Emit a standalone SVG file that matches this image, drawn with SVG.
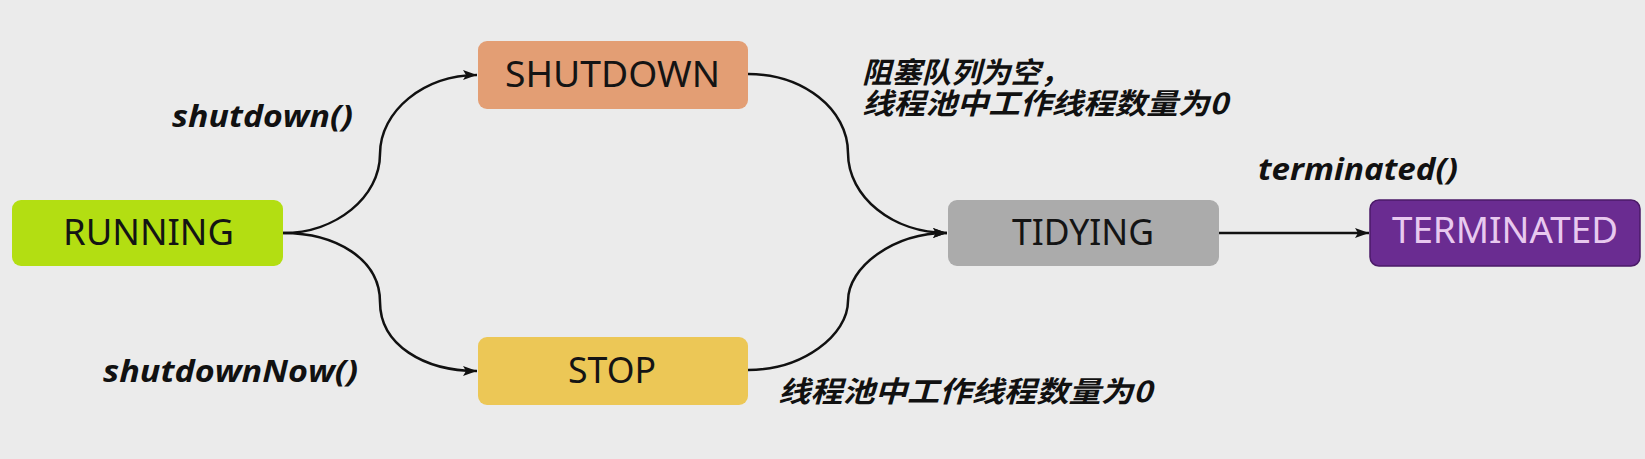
<svg xmlns="http://www.w3.org/2000/svg" width="1645" height="459" viewBox="0 0 1645 459">
<defs>
<style>
.bg{fill:#ebebeb}
.node{stroke:none}
.ntext{font-family:"Noto Sans","Open Sans","Liberation Sans",sans-serif;font-size:36px;fill:#141414;text-anchor:start}
.lbl{font-family:"Open Sans","Noto Sans","Liberation Sans",sans-serif;font-size:31px;font-weight:700;font-style:italic;fill:#111}
.cjk{font-family:"Noto Sans CJK SC","Noto Sans",sans-serif;font-size:29px;font-weight:700;font-style:italic;fill:#111}
.conn{fill:none;stroke:#111;stroke-width:2.5}
</style>
<marker id="arr" viewBox="0 0 14 10" refX="14" refY="5" markerWidth="14" markerHeight="10" markerUnits="userSpaceOnUse" orient="auto">
<path d="M0,0 L14,5 L0,10 L3,5 Z" fill="#111"/>
</marker>
</defs>
<rect class="bg" x="0" y="0" width="1645" height="459"/>
<g id="connectors">
<path class="conn" d="M283,233 C336,233 380,197 380,154 C380,111 424,75 477,75" marker-end="url(#arr)"/>
<path class="conn" d="M283,233 C336,233 380,259 380,302 C380,345 424,371 477,371" marker-end="url(#arr)"/>
<path class="conn" d="M748,74 C803,74 848,109 848,153 C848,197 893,233 947,233" marker-end="url(#arr)"/>
<path class="conn" d="M748,370 C803,370 848,335 848,301 C848,267 893,233 947,233" marker-end="url(#arr)"/>
<path class="conn" d="M1219,233 L1369,233" marker-end="url(#arr)"/>
</g>
<g id="running">
<rect class="node" x="12" y="200" width="271" height="66" rx="9" fill="#b3de12"/>
<text class="ntext" x="63" y="245" textLength="171" lengthAdjust="spacingAndGlyphs">RUNNING</text>
</g>
<g id="shutdown">
<rect class="node" x="478" y="41" width="270" height="68" rx="9" fill="#e39e74"/>
<text class="ntext" x="505" y="87" textLength="215" lengthAdjust="spacingAndGlyphs">SHUTDOWN</text>
</g>
<g id="stop">
<rect class="node" x="478" y="337" width="270" height="68" rx="9" fill="#ecc756"/>
<text class="ntext" x="568" y="383" textLength="88" lengthAdjust="spacingAndGlyphs">STOP</text>
</g>
<g id="tidying">
<rect class="node" x="948" y="200" width="271" height="66" rx="9" fill="#ababab"/>
<text class="ntext" x="1012" y="245" textLength="142" lengthAdjust="spacingAndGlyphs">TIDYING</text>
</g>
<g id="terminated">
<rect x="1370" y="200" width="270" height="66" rx="9" fill="#6a2c91" stroke="#4b1a68" stroke-width="1.5"/>
<text class="ntext" x="1392" y="243" textLength="226" lengthAdjust="spacingAndGlyphs" style="fill:#e8c9ef">TERMINATED</text>
</g>
<g id="labels">
<text class="lbl" x="172" y="127" textLength="181" lengthAdjust="spacingAndGlyphs">shutdown()</text>
<text class="lbl" x="103" y="382" textLength="255" lengthAdjust="spacingAndGlyphs">shutdownNow()</text>
<text class="lbl" x="1258" y="180" textLength="200" lengthAdjust="spacingAndGlyphs">terminated()</text>
<text class="cjk" x="862" y="83" textLength="208" lengthAdjust="spacingAndGlyphs">阻塞队列为空，</text>
<text class="cjk" x="862" y="114" textLength="366" lengthAdjust="spacingAndGlyphs">线程池中工作线程数量为0</text>
<text class="cjk" x="778" y="402" textLength="374" lengthAdjust="spacingAndGlyphs">线程池中工作线程数量为0</text>
</g>
</svg>
